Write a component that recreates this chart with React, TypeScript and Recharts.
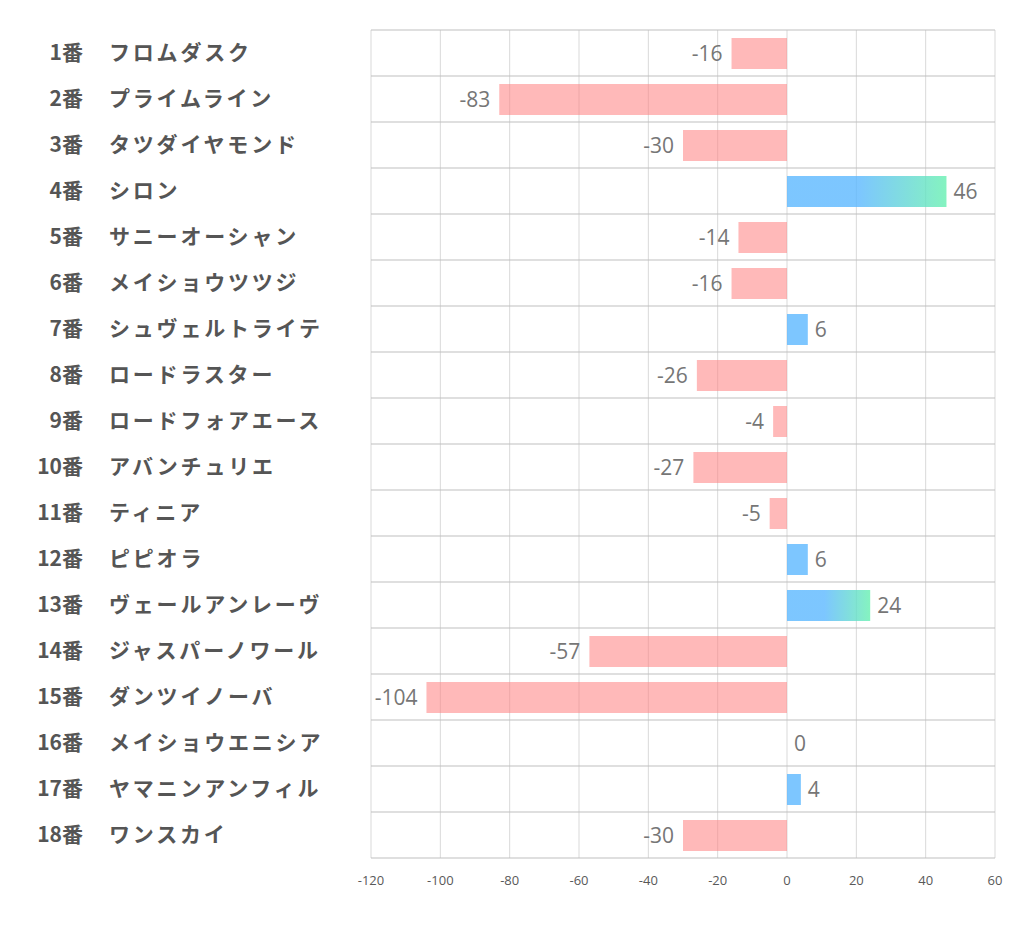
import React from "react";
import {
  BarChart,
  Bar,
  XAxis,
  YAxis,
  CartesianGrid,
} from "recharts";

const numbers = [
  "1番", "2番", "3番", "4番", "5番", "6番", "7番", "8番", "9番",
  "10番", "11番", "12番", "13番", "14番", "15番", "16番", "17番", "18番",
];
const horses = [
  "フロムダスク",
  "プライムライン",
  "タツダイヤモンド",
  "シロン",
  "サニーオーシャン",
  "メイショウツツジ",
  "シュヴェルトライテ",
  "ロードラスター",
  "ロードフォアエース",
  "アバンチュリエ",
  "ティニア",
  "ピピオラ",
  "ヴェールアンレーヴ",
  "ジャスパーノワール",
  "ダンツイノーバ",
  "メイショウエニシア",
  "ヤマニンアンフィル",
  "ワンスカイ",
];
const scores = [-16, -83, -30, 46, -14, -16, 6, -26, -4, -27, -5, 6, 24, -57, -104, 0, 4, -30];
const xTicks = [-120, -100, -80, -60, -40, -20, 0, 20, 40, 60];

const data = numbers.map((n, i) => ({ key: n, name: horses[i], score: scores[i] }));

const NEG = "#FF8080";
const POS = "#5CB8FF";

const colorFor = (v: number) => {
  if (v < 0) return NEG;
  if (v >= 20) return "url(#posGrad)";
  return POS;
};

const CategoryTick = (props: any) => {
  const { y, payload } = props;
  const idx = payload.index;
  return (
    <g>
      <text
        x={75}
        y={y}
        dy={7}
        textAnchor="end"
        fontSize={21}
        fontWeight="bold"
        fill="#555555"
        fontFamily="'Noto Sans CJK JP', sans-serif"
      >
        {payload.value}
      </text>
      <text
        x={101}
        y={y}
        dy={7}
        textAnchor="start"
        fontSize={21}
        fontWeight="bold"
        fill="#555555"
        letterSpacing={2.8}
        fontFamily="'Noto Sans CJK JP', sans-serif"
      >
        {horses[idx]}
      </text>
    </g>
  );
};

// draws the bar and its value label together so the 0 entry still gets a label
const BarWithLabel = (props: any) => {
  const { x, y, width, height, payload } = props;
  const value = payload.score;
  const left = Math.min(x, x + width);
  const right = Math.max(x, x + width);
  const w = Math.abs(width);
  const neg = value < 0;
  return (
    <g>
      {w > 0 && (
        <rect
          x={left}
          y={y}
          width={w}
          height={height}
          fill={colorFor(value)}
          fillOpacity={neg ? 0.55 : 0.8}
        />
      )}
      <text
        x={neg ? left - 9 : right + 7}
        y={y + height / 2}
        dy={7.5}
        textAnchor={neg ? "end" : "start"}
        fontSize={21}
        fill="#767676"
        fontFamily="'Open Sans', sans-serif"
      >
        {value}
      </text>
    </g>
  );
};

export default function App() {
  return (
    <BarChart
      width={1006}
      height={923}
      data={data}
      layout="vertical"
      margin={{ top: 22, right: 19, left: 0, bottom: 33 }}
      barSize={31}
    >
      <defs>
        <linearGradient id="posGrad" x1="0" y1="0" x2="1" y2="0">
          <stop offset="0" stopColor={POS} />
          <stop offset="0.45" stopColor={POS} />
          <stop offset="1" stopColor="#66F0B0" />
        </linearGradient>
      </defs>
      <CartesianGrid horizontal={false} stroke="#d9d9d9" strokeWidth={1} />
      <CartesianGrid
        vertical={false}
        stroke="#bfbfbf"
        strokeWidth={1}
        horizontalCoordinatesGenerator={({ offset }: any) =>
          numbers.map((_, i) => offset.top + (i * offset.height) / numbers.length)
        }
      />
      <XAxis
        type="number"
        domain={[-120, 60]}
        ticks={xTicks}
        interval={0}
        axisLine={{ stroke: "#bfbfbf" }}
        tickLine={false}
        tickMargin={12}
        height={40}
        tick={{ fontSize: 13, fill: "#595959", fontFamily: "'Open Sans', sans-serif" }}
      />
      <YAxis
        type="category"
        dataKey="key"
        width={363}
        axisLine={false}
        tickLine={false}
        interval={0}
        tick={<CategoryTick />}
      />
      <Bar
        dataKey="score"
        isAnimationActive={false}
        shape={<BarWithLabel />}
      />
    </BarChart>
  );
}
